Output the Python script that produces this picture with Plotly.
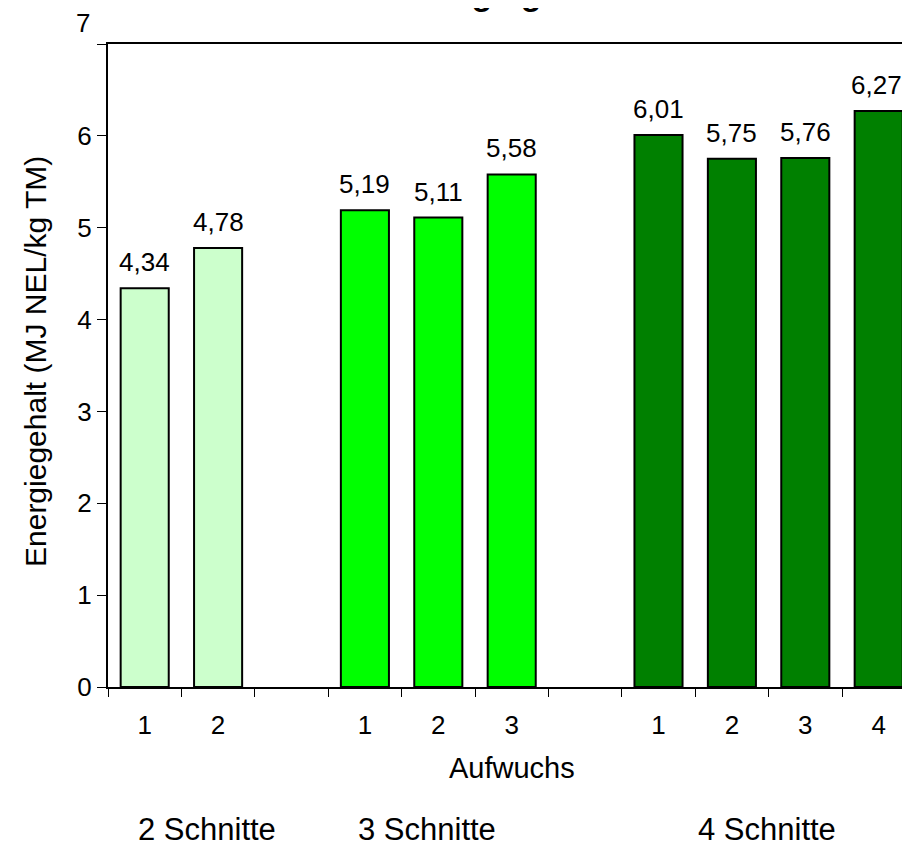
import plotly.graph_objects as go

# ---- data ----
group_names = ["2 Schnitte", "3 Schnitte", "4 Schnitte"]
values_2 = [4.34, 4.78]
values_3 = [5.19, 5.11, 5.58]
values_4 = [6.01, 5.75, 5.76, 6.27]
tick_labels = ["1", "2", "", "1", "2", "3", "", "1", "2", "3", "4"]
y_ticks = [0, 1, 2, 3, 4, 5, 6, 7]
colors = ["#CCFFCC", "#00FF00", "#008000"]

FONT = "Liberation Sans, Arial, sans-serif"
FS = 26

# page body has an 8px margin; figure sized so the page does not scroll
OFF = 8
W, H = 894, 838
ML, MR, MT, MB = 100, 0, 36, 159
pw = W - ML - MR
ph = H - MT - MB
slot = 73.4
x_range = [-0.5, -0.5 + pw / slot]

groups = [values_2, values_3, values_4]
xs, ys, cols = [], [], []
pos = 0
for gi, vals in enumerate(groups):
    for v in vals:
        xs.append(pos)
        ys.append(v)
        cols.append(colors[gi])
        pos += 1
    pos += 1  # empty slot between groups

fig = go.Figure()
fig.add_trace(go.Bar(
    x=xs, y=ys,
    marker=dict(color=cols, line=dict(color="black", width=2)),
    width=0.655,
    showlegend=False,
    hoverinfo="skip",
))

annotations = []
for i, (x, y) in enumerate(zip(xs, ys)):
    annotations.append(dict(
        x=x, y=y, xref="x", yref="y", text=f"{y:.2f}".replace(".", ","),
        showarrow=False, yanchor="bottom", yshift=9,
        xanchor="right" if i == len(xs) - 1 else "center",
        xshift=25 if i == len(xs) - 1 else 0,
        font=dict(family=FONT, size=FS, color="black"),
    ))

def px_x(p):
    return (p - OFF - ML) / pw

def px_y(p):
    return (H - MB - (p - OFF)) / ph

# misplaced "7" label
annotations.append(dict(x=px_x(92), y=px_y(23), xref="paper", yref="paper", text="7",
                        showarrow=False, xanchor="right", yanchor="middle",
                        font=dict(family=FONT, size=FS, color="black")))
# cut-off title
annotations.append(dict(x=px_x(508), y=px_y(14), xref="paper", yref="paper",
                        text="<b>Energiegehalt</b>", showarrow=False,
                        xanchor="center", yanchor="bottom",
                        font=dict(family=FONT, size=34, color="black")))
# group labels
for name, cx in zip(group_names, [207, 427, 767]):
    annotations.append(dict(x=px_x(cx), y=px_y(829), xref="paper", yref="paper",
                            text=name, showarrow=False, xanchor="center", yanchor="middle",
                            font=dict(family=FONT, size=31, color="black")))
# x axis title
annotations.append(dict(x=px_x(512), y=px_y(768), xref="paper", yref="paper",
                        text="Aufwuchs", showarrow=False, xanchor="center", yanchor="middle",
                        font=dict(family=FONT, size=29, color="black")))
# y axis title
annotations.append(dict(x=px_x(35), y=px_y(362), xref="paper", yref="paper",
                        text="Energiegehalt (MJ NEL/kg TM)", showarrow=False,
                        textangle=-90, xanchor="center", yanchor="middle",
                        font=dict(family=FONT, size=30, color="black")))

fig.update_layout(
    width=W, height=H,
    margin=dict(l=ML, r=MR, t=MT, b=MB, pad=0),
    plot_bgcolor="white", paper_bgcolor="white",
    font=dict(family=FONT, size=FS, color="black"),
    annotations=annotations,
    xaxis=dict(
        range=x_range,
        tickmode="array",
        tickvals=list(range(len(tick_labels))),
        ticktext=tick_labels,
        ticks="outside", ticklen=14, tickcolor="rgba(0,0,0,0)",
        showline=True, linecolor="black", linewidth=2, mirror=True,
        showgrid=False, zeroline=False,
        tickfont=dict(family=FONT, size=FS, color="black"),
        minor=dict(tickmode="linear", tick0=-0.5, dtick=1, ticks="outside",
                   ticklen=8, tickcolor="black", tickwidth=1, showgrid=False),
    ),
    yaxis=dict(
        range=[0, 7],
        tickmode="array",
        tickvals=y_ticks,
        ticktext=[str(t) if t < 7 else "" for t in y_ticks],
        ticks="outside", ticklen=9, tickcolor="black", tickwidth=1,
        showline=True, linecolor="black", linewidth=2,
        showgrid=False, zeroline=False,
        tickfont=dict(family=FONT, size=FS, color="black"),
    ),
)

fig.write_html("out.html")
